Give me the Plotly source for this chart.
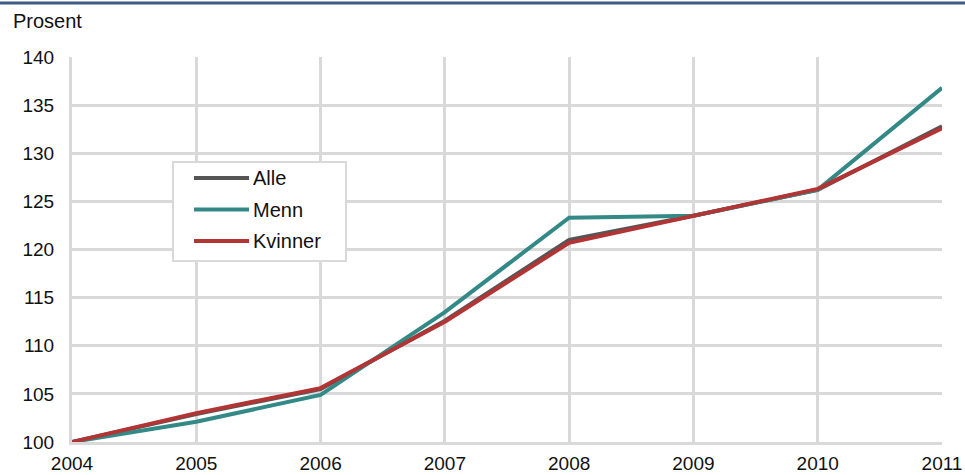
import plotly.graph_objects as go

years = [2004, 2005, 2006, 2007, 2008, 2009, 2010, 2011]
alle = [100, 102.9, 105.5, 112.6, 121.0, 123.5, 126.2, 132.8]
menn = [100, 102.1, 104.9, 113.5, 123.3, 123.5, 126.2, 136.8]
kvinner = [100, 103.0, 105.6, 112.5, 120.7, 123.5, 126.3, 132.6]
series_names = ["Alle", "Menn", "Kvinner"]
colors = ["#555555", "#338985", "#b23434"]
y_ticks = [100, 105, 110, 115, 120, 125, 130, 135, 140]

FONT = "Liberation Sans, Arial, sans-serif"
fig = go.Figure()
for name, vals, col in zip(series_names, [alle, menn, kvinner], colors):
    fig.add_trace(go.Scatter(x=years, y=vals, name=name, mode="lines",
                             line=dict(color=col, width=4), showlegend=False))

axis_common = dict(showgrid=True, gridcolor="#d9d9d9", gridwidth=3,
                   showline=True, linecolor="#d9d9d9", linewidth=3, automargin=False,
                   zeroline=False, ticks="", tickfont=dict(family=FONT, size=19, color="#111"))
fig.update_xaxes(range=[2004, 2011], tickvals=years, ticklabelstandoff=2, **axis_common)
fig.update_yaxes(range=[100, 140], tickvals=y_ticks, ticklabelstandoff=11, **axis_common)

fig.update_layout(
    width=965, height=475,
    margin=dict(l=72, r=23, t=57, b=33, autoexpand=False),
    plot_bgcolor="white", paper_bgcolor="white",
    showlegend=False,
)

# top rule
fig.add_shape(type="line", xref="paper", yref="paper", x0=-72/870, x1=1+23/870,
              y0=1+54/385, y1=1+54/385, line=dict(color="#3f5a85", width=3))
fig.add_annotation(text="Prosent", xref="paper", yref="paper",
                   x=-61/870, y=1+36/385, xanchor="left", yanchor="middle",
                   showarrow=False, font=dict(family=FONT, size=20, color="#111"))

# legend box (manual)
def px(xp):
    return (xp - 72) / 870
def py(yp):
    return (442 - yp) / 385
fig.add_shape(type="rect", xref="paper", yref="paper", x0=px(173), x1=px(346),
              y0=py(261), y1=py(162), line=dict(color="#d9d9d9", width=2), fillcolor="white")
for i, (name, col) in enumerate(zip(series_names, colors)):
    yy = 178 + i * 31.5
    fig.add_shape(type="line", xref="paper", yref="paper", x0=px(194), x1=px(249),
                  y0=py(yy), y1=py(yy), line=dict(color=col, width=4))
    fig.add_annotation(text=name, xref="paper", yref="paper", x=px(251), y=py(yy),
                       xanchor="left", yanchor="middle", showarrow=False,
                       font=dict(family=FONT, size=20, color="#111"))

fig.write_html("out.html", post_script="document.body.style.margin='0';",
               config={"displayModeBar": False})
